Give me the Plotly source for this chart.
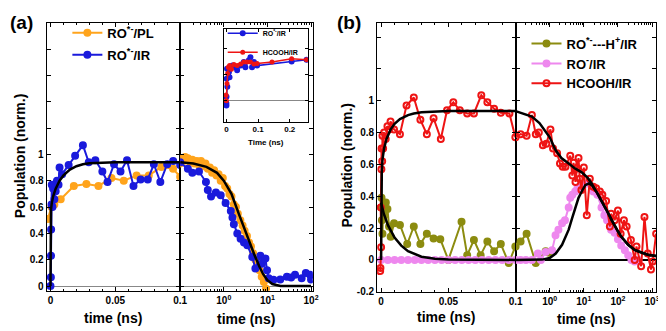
import plotly.graph_objects as go

W, H = 666, 331
FONT = "Liberation Sans, Arial, sans-serif"

# ---------------- colours ----------------
C_ORANGE = "#FFA41C"
C_BLUE = "#1A1ADC"
C_RED = "#EE1414"
C_OLIVE = "#8C8C10"
C_VIOLET = "#EE88EE"
C_FIT = "black"

# ---------------- panel (a) data ----------------
# RO*-/PL (orange), linear part 0..0.1 ns
a_pl_t_lin = [-0.002, 0.0007, 0.003, 0.0079, 0.018, 0.0277, 0.037, 0.047, 0.0565, 0.0664, 0.0758, 0.0855, 0.0945, 0.1]
a_pl_v_lin = [0.51, 0.60, 0.62, 0.66, 0.76, 0.775, 0.76, 0.82, 0.80, 0.84, 0.84, 0.905, 0.89, 0.83]
# RO*-/PL (orange), log part
a_pl_t_log = [0.1, 0.11, 0.12, 0.13, 0.14, 0.15, 0.17, 0.19, 0.21, 0.24, 0.27, 0.3, 0.34, 0.38, 0.43,
              0.48, 0.54, 0.6, 0.68, 0.76, 0.85, 0.95, 1.07, 1.2, 1.35, 1.5, 1.7, 1.9, 2.1, 2.4,
              2.7, 3.0, 3.4, 3.8, 4.2, 4.7, 5.3, 5.9, 6.6, 7.4, 8.3, 9.3]
a_pl_v_log = [0.93, 0.97, 0.95, 0.98, 0.96, 0.97, 0.94, 0.96, 0.93, 0.95, 0.92, 0.95, 0.91, 0.93, 0.89,
              0.90, 0.86, 0.88, 0.84, 0.85, 0.80, 0.82, 0.76, 0.74, 0.70, 0.68, 0.62, 0.60, 0.55, 0.50,
              0.46, 0.42, 0.38, 0.33, 0.30, 0.25, 0.20, 0.16, 0.12, 0.07, 0.03, -0.02]

# RO*-/IR (blue)
a_ir_t_lin = [0.0, 0.0003, 0.0004, 0.0005, 0.0008, 0.001, 0.0015, 0.002, 0.0025, 0.003, 0.004, 0.005,
              0.0062, 0.007, 0.009, 0.014, 0.019, 0.025, 0.0295, 0.0346, 0.040, 0.044, 0.049, 0.054,
              0.059, 0.064, 0.0695, 0.075, 0.0797, 0.0847, 0.090, 0.0946, 0.1]
a_ir_v_lin = [0.0, 0.066, 0.23, 0.43, 0.62, 0.77, 0.60, 0.74, 0.76, 0.66, 0.72, 0.80,
              0.77, 0.90, 0.85, 0.92, 0.99, 1.07, 0.94, 0.955, 0.87, 0.79, 0.925, 0.87,
              0.955, 0.76, 0.81, 0.81, 0.925, 0.79, 0.925, 0.95, 0.92]
a_ir_t_log = [0.1, 0.15, 0.19, 0.27, 0.39, 0.43, 0.51, 0.66, 0.85, 1.1, 1.45, 1.58, 1.7, 2.04, 2.43,
              2.9, 3.46, 4.5, 5.3, 6.9, 7.5, 9.0, 9.8, 10.7, 13.8, 19.7, 28, 35, 43, 61, 76, 95, 100]
a_ir_v_log = [0.94, 0.89, 0.86, 0.87, 0.79, 0.73, 0.68, 0.71, 0.69, 0.63, 0.57, 0.52, 0.47, 0.40, 0.36,
              0.33, 0.31, 0.22, 0.134, 0.23, 0.17, 0.21, 0.12, 0.06, 0.047, 0.05, 0.07, 0.065, 0.085, 0.06, 0.10, 0.085, 0.05]

# fit (black)
a_fit_t_lin = [0.0, 0.0002, 0.0004, 0.001, 0.002, 0.004, 0.007, 0.01, 0.015, 0.02, 0.025, 0.03, 0.04, 0.05, 0.1]
a_fit_v_lin = [0.0, 0.30, 0.58, 0.63, 0.68, 0.74, 0.80, 0.84, 0.885, 0.91, 0.925, 0.933, 0.938, 0.94, 0.94]
a_fit_t_log = [0.1, 0.2, 0.4, 0.7, 1.0, 1.5, 2.2, 3.0, 4.0, 5.0, 6.5, 8.0, 10, 13, 20, 30, 100]
a_fit_v_log = [0.94, 0.93, 0.905, 0.86, 0.80, 0.70, 0.55, 0.43, 0.32, 0.24, 0.15, 0.09, 0.045, 0.015, 0.0, 0.0, 0.0]

# inset
in_ir_t = [0.0, 0.0002, 0.0004, 0.003, 0.001, 0.002, 0.008, 0.013, 0.010, 0.019, 0.029, 0.034, 0.045,
           0.055, 0.060, 0.071, 0.076, 0.081, 0.087, 0.092, 0.097, 0.206, 0.253]
in_ir_v = [-0.045, -0.09, 0.08, 0.27, 0.42, 0.61, 0.55, 0.64, 0.45, 0.67, 0.64, 0.58, 0.67,
           0.74, 0.64, 0.77, 0.83, 0.64, 0.74, 0.70, 0.67, 0.75, 0.78]
in_hc_t = [-0.001, 0.0, 0.002, 0.004, 0.006, 0.010, 0.016, 0.024, 0.034, 0.045, 0.055, 0.065, 0.076,
           0.087, 0.097, 0.144, 0.206, 0.253]
in_hc_v = [0.11, 0.0, 0.33, 0.52, 0.64, 0.67, 0.60, 0.69, 0.67, 0.70, 0.74, 0.74, 0.74,
           0.70, 0.71, 0.74, 0.80, 0.78]

# ---------------- panel (b) data ----------------
b_hb_t_lin = [0.0, 0.0003, 0.0006, 0.001, 0.0015, 0.0025, 0.0035, 0.0047, 0.0059, 0.0071, 0.0096, 0.014,
              0.0194, 0.0243, 0.0292, 0.034, 0.039, 0.044, 0.05, 0.0598, 0.064, 0.069, 0.074, 0.079,
              0.084, 0.089, 0.0949, 0.0998]
b_hb_v_lin = [0.33, 0.39, 0.25, 0.165, 0.33, 0.28, 0.36, 0.32, 0.21, 0.145, 0.23, 0.22,
              0.10, 0.21, 0.10, 0.165, 0.135, 0.13, 0.0, 0.24, 0.03, 0.125, 0.03, 0.115,
              0.055, 0.10, -0.02, 0.085]
b_hb_t_log = [0.1, 0.14, 0.21, 0.39, 0.76, 0.95]
b_hb_v_log = [0.085, 0.115, 0.165, -0.02, 0.055, 0.045]

b_ro_t_lin = [0.0, 0.005, 0.01, 0.015, 0.02, 0.025, 0.03, 0.035, 0.04, 0.045, 0.05,
              0.055, 0.06, 0.065, 0.07, 0.075, 0.08, 0.085, 0.09, 0.095, 0.1]
b_ro_v_lin = [0.0, 0.0, 0.0, 0.0, 0.0, 0.0, 0.0, 0.0, 0.0, 0.0, 0.0,
              0.0, 0.0, 0.0, 0.0, 0.0, 0.0, 0.0, 0.0, 0.0, 0.0]
b_ro_t_log = [0.1, 0.14, 0.2, 0.3, 0.45, 0.55, 0.76, 1.17, 1.48, 1.8, 2.3, 2.8, 3.6, 4.0, 4.6, 5.6, 6.5,
              7.8, 9.5, 13, 19, 25, 33, 40, 48, 63, 80, 100, 125, 160, 200, 250, 310, 400]
b_ro_v_log = [0.0, 0.0, 0.0, 0.0, 0.04, 0.0, 0.05, 0.06, 0.155, 0.19, 0.23, 0.25, 0.33, 0.39, 0.41, 0.43, 0.45,
              0.45, 0.47, 0.48, 0.43, 0.41, 0.33, 0.28, 0.25, 0.19, 0.17, 0.13, 0.09, 0.06, 0.03, 0.0, -0.01, 0.0]

b_hc_t_lin = [-0.0007, -0.0005, 0.0, -0.0003, 0.0002, 0.0003, 0.0008, 0.001, 0.0015, 0.0022, 0.0034,
              0.0047, 0.0059, 0.007, 0.0096, 0.014, 0.0189, 0.0243, 0.0292, 0.034, 0.039, 0.0444,
              0.049, 0.0537, 0.0585, 0.064, 0.069, 0.0745, 0.079, 0.084, 0.089, 0.0954, 0.0998]
b_hc_v_lin = [-0.07, -0.05, 0.08, 0.33, 0.57, 0.70, 0.62, 0.78, 0.70, 0.80, 0.76,
              0.84, 0.82, 0.87, 0.82, 0.79, 0.97, 1.02, 0.88, 0.79, 0.89, 0.76,
              0.94, 0.99, 0.94, 0.92, 0.92, 1.035, 0.99, 0.95, 0.925, 0.92, 0.77]
b_hc_t_log = [0.1, 0.14, 0.21, 0.30, 0.39, 0.48, 0.63, 0.8, 1.05, 1.25, 1.65, 2.0, 2.4, 2.9, 4.0, 4.6,
              5.0, 5.7, 6.3, 7.0, 7.6, 8.5, 10, 12.2, 15, 19, 23, 29.6, 35, 45, 58, 63, 80, 100,
              120, 150, 180, 240, 310, 350, 480, 600, 750, 930, 1050, 1320]
b_hc_v_log = [0.77, 0.79, 0.78, 0.91, 0.79, 0.80, 0.72, 0.73, 0.82, 0.70, 0.67, 0.605, 0.585, 0.585, 0.655, 0.53,
              0.61, 0.49, 0.575, 0.64, 0.51, 0.44, 0.58, 0.28, 0.51, 0.46, 0.45, 0.43, 0.41, 0.37, 0.21, 0.29, 0.25, 0.31,
              0.165, 0.25, 0.21, 0.125, 0.0, 0.085, -0.04, 0.27, 0.04, -0.06, -0.01, 0.165]

b_fit_hc_t_lin = [0.0, 0.0002, 0.0005, 0.001, 0.0022, 0.004, 0.0071, 0.01, 0.014, 0.02, 0.0243, 0.03, 0.04, 0.05, 0.1]
b_fit_hc_v_lin = [0.0, 0.35, 0.55, 0.63, 0.70, 0.76, 0.82, 0.855, 0.885, 0.91, 0.92, 0.928, 0.933, 0.935, 0.935]
b_fit_hc_t_log = [0.1, 0.3, 0.5, 0.76, 1.0, 1.48, 2.2, 3.6, 5.5, 8.7, 13, 17, 25, 33, 50, 65, 100, 126,
                  200, 309, 500, 750, 1320]
b_fit_hc_v_log = [0.935, 0.90, 0.86, 0.81, 0.77, 0.69, 0.64, 0.605, 0.575, 0.55, 0.515, 0.48, 0.42, 0.37,
                  0.30, 0.25, 0.18, 0.145, 0.095, 0.063, 0.045, 0.033, 0.025]
b_fit_hb_t_lin = [0.0, 0.002, 0.005, 0.01, 0.015, 0.02, 0.03, 0.04, 0.05, 0.1]
b_fit_hb_v_lin = [0.36, 0.29, 0.22, 0.14, 0.09, 0.055, 0.02, 0.008, 0.003, 0.0]
b_fit_ro_t_log = [0.1, 0.3, 0.6, 1.0, 1.5, 2.3, 3.0, 3.6, 4.5, 5.6, 7.0, 8.7, 11, 14, 17, 25, 33, 50, 65,
                  100, 126, 200, 309, 500, 750, 1320]
b_fit_ro_v_log = [0.0, 0.0, 0.002, 0.012, 0.04, 0.095, 0.15, 0.19, 0.26, 0.33, 0.39, 0.43, 0.47, 0.48, 0.47,
                  0.42, 0.37, 0.30, 0.25, 0.18, 0.145, 0.095, 0.063, 0.045, 0.033, 0.025]

# tick labels
a_y_ticks = [0, 0.2, 0.4, 0.6, 0.8, 1.0, 1.2, 1.4, 1.6, 1.8, 2.0]
a_y_labels = ["0", "0.2", "0.4", "0.6", "0.8", "1", "", "", "", "", ""]
b_y_ticks = [-0.2, 0, 0.2, 0.4, 0.6, 0.8, 1.0, 1.2, 1.4]
b_y_labels = ["-0.2", "0", "0.2", "0.4", "0.6", "0.8", "1", "", ""]
lin_x_ticks = [0, 0.05, 0.1]
lin_x_labels = ["0", "0.05", "0.1"]
a_log_ticks = [1, 10, 100]
a_log_labels = ["10<sup>0</sup>", "10<sup>1</sup>", "10<sup>2</sup>"]
b_log_ticks = [1, 10, 100, 1000]
b_log_labels = ["10<sup>0</sup>", "10<sup>1</sup>", "10<sup>2</sup>", "10<sup>3</sup>"]
in_x_ticks = [0, 0.1, 0.2]
in_x_labels = ["0", "0.1", "0.2"]

# ---------------- figure ----------------
fig = go.Figure()


def add(x, y, color, name, xa, ya, legend, showlegend, group, mode="lines+markers", width=2.0,
        msize=6, symbol="circle"):
    fig.add_trace(go.Scatter(
        x=x, y=y, mode=mode, name=name, legend=legend, showlegend=showlegend, legendgroup=group,
        line=dict(color=color, width=width),
        marker=dict(size=msize, color=color, symbol=symbol, line=dict(color=color, width=2)),
        xaxis=xa, yaxis=ya))


N_PL = "RO<sup>*-</sup>/PL"
N_IR = "RO<sup>*-</sup>/IR"
# panel a
add(a_pl_t_lin, a_pl_v_lin, C_ORANGE, N_PL, "x", "y", "legend", True, "pl")
add(a_pl_t_log, a_pl_v_log, C_ORANGE, N_PL, "x2", "y2", "legend", False, "pl")
add(a_ir_t_lin, a_ir_v_lin, C_BLUE, N_IR, "x", "y", "legend", True, "ir")
add(a_ir_t_log, a_ir_v_log, C_BLUE, N_IR, "x2", "y2", "legend", False, "ir")
add(a_fit_t_lin, a_fit_v_lin, C_FIT, "fit", "x", "y", "legend", False, "fa", mode="lines", width=2.5)
add(a_fit_t_log, a_fit_v_log, C_FIT, "fit", "x2", "y2", "legend", False, "fa", mode="lines", width=2.5)
# inset
add(in_ir_t, in_ir_v, C_BLUE, N_IR, "x5", "y5", "legend3", True, "iir", width=1.5, msize=4)
add(in_hc_t, in_hc_v, C_RED, "HCOOH/IR", "x5", "y5", "legend3", True, "ihc", width=1.5, msize=3)
# panel b
N_HB = "RO<sup>*-</sup>---H<sup>+</sup>/IR"
N_RO = "RO<sup>-</sup>/IR"
N_HC = "HCOOH/IR"
add(b_hb_t_lin, b_hb_v_lin, C_OLIVE, N_HB, "x3", "y3", "legend2", True, "hb")
add(b_hb_t_log, b_hb_v_log, C_OLIVE, N_HB, "x4", "y4", "legend2", False, "hb")
add(b_ro_t_lin, b_ro_v_lin, C_VIOLET, N_RO, "x3", "y3", "legend2", True, "ro")
add(b_ro_t_log, b_ro_v_log, C_VIOLET, N_RO, "x4", "y4", "legend2", False, "ro")
add(b_hc_t_lin, b_hc_v_lin, C_RED, N_HC, "x3", "y3", "legend2", True, "hc", symbol="circle-open")
add(b_hc_t_log, b_hc_v_log, C_RED, N_HC, "x4", "y4", "legend2", False, "hc", symbol="circle-open")
add(b_fit_hc_t_lin, b_fit_hc_v_lin, C_FIT, "fit", "x3", "y3", "legend2", False, "fb", mode="lines", width=2.5)
add(b_fit_hb_t_lin, b_fit_hb_v_lin, C_FIT, "fit", "x3", "y3", "legend2", False, "fb", mode="lines", width=2.5)
add(b_fit_hc_t_log, b_fit_hc_v_log, C_FIT, "fit", "x4", "y4", "legend2", False, "fb", mode="lines", width=2.5)
add(b_fit_ro_t_log, b_fit_ro_v_log, C_FIT, "fit", "x4", "y4", "legend2", False, "fb", mode="lines", width=2.5)


def px(v):
    return v / W


def py(v):
    return 1 - v / H


tickfont = dict(family=FONT, size=10, color="black", weight="bold")
base = dict(showline=True, linecolor="black", linewidth=1, mirror="ticks", ticks="inside",
            ticklen=4, tickcolor="black", showgrid=False, zeroline=False, tickfont=tickfont)


def log_minor(lo, hi):
    vals = []
    d = 10.0 ** lo
    while d < 10.0 ** hi:
        for k in range(2, 10):
            vals.append(k * d)
        d *= 10
    return vals


lin_minor = dict(ticks="inside", ticklen=2, tickcolor="black", dtick=0.01, tick0=0, showgrid=False)

fig.update_layout(
    width=W, height=H, margin=dict(l=0, r=0, t=0, b=0),
    paper_bgcolor="white", plot_bgcolor="white",
    font=dict(family=FONT, color="black", weight="bold"),
    xaxis=dict(base, domain=[px(39), px(174)], range=[-0.003, 0.1], anchor="y",
               tickmode="array", tickvals=lin_x_ticks, ticktext=lin_x_labels, minor=lin_minor),
    xaxis2=dict(base, type="log", domain=[px(174), px(308)], range=[-1, 2.04], anchor="y2",
                tickmode="array", tickvals=a_log_ticks, ticktext=a_log_labels,
                minor=dict(ticks="inside", ticklen=2, tickcolor="black", tickmode="array",
                           tickvals=log_minor(-1, 3), showgrid=False)),
    yaxis=dict(base, domain=[py(288), py(15)], range=[-0.036, 2.0], anchor="x",
               tickmode="array", tickvals=a_y_ticks, ticktext=a_y_labels,
               zeroline=True, zerolinecolor="#888888", zerolinewidth=1),
    yaxis2=dict(base, domain=[py(288), py(15)], range=[-0.036, 2.0], anchor="x2",
                tickmode="array", tickvals=a_y_ticks, showticklabels=False,
                zeroline=True, zerolinecolor="#888888", zerolinewidth=1),
    xaxis3=dict(base, domain=[px(373), px(513)], range=[-0.003, 0.1], anchor="y3",
                tickmode="array", tickvals=lin_x_ticks, ticktext=lin_x_labels, minor=lin_minor),
    xaxis4=dict(base, type="log", domain=[px(513), px(655)], range=[-1, 3.12], anchor="y4",
                tickmode="array", tickvals=b_log_ticks, ticktext=b_log_labels,
                minor=dict(ticks="inside", ticklen=2, tickcolor="black", tickmode="array",
                           tickvals=log_minor(-1, 4), showgrid=False)),
    yaxis3=dict(base, domain=[py(289), py(15)], range=[-0.2, 1.49], anchor="x3",
                tickmode="array", tickvals=b_y_ticks, ticktext=b_y_labels,
                zeroline=True, zerolinecolor="black", zerolinewidth=2),
    yaxis4=dict(base, domain=[py(289), py(15)], range=[-0.2, 1.49], anchor="x4",
                tickmode="array", tickvals=b_y_ticks, showticklabels=False,
                zeroline=True, zerolinecolor="black", zerolinewidth=2),
    xaxis5=dict(base, domain=[px(218), px(303)], range=[-0.0084, 0.257], anchor="y5",
                tickmode="array", tickvals=in_x_ticks, ticktext=in_x_labels, ticklen=3,
                tickfont=dict(family=FONT, size=8, color="black", weight="bold")),
    yaxis5=dict(base, domain=[py(116), py(21.7)], range=[-0.4, 1.36], anchor="x5",
                tickmode="array", tickvals=[0, 0.5, 1.0], showticklabels=False, ticklen=3,
                zeroline=True, zerolinecolor="#888888", zerolinewidth=1),
    legend=dict(x=px(60), y=py(10), xanchor="left", yanchor="top", bgcolor="rgba(0,0,0,0)",
                font=dict(family=FONT, size=13, color="black", weight="bold"), tracegroupgap=2),
    legend2=dict(x=px(524), y=py(21), xanchor="left", yanchor="top", bgcolor="rgba(0,0,0,0)",
                 font=dict(family=FONT, size=13, color="black", weight="bold"), tracegroupgap=0),
    legend3=dict(x=px(217), y=py(11), xanchor="left", yanchor="top", bgcolor="rgba(0,0,0,0)",
                 font=dict(family=FONT, size=7, color="black", weight="bold"), tracegroupgap=0),
    showlegend=True,
)

title_font = dict(family=FONT, size=14, color="black", weight="bold")
annos = [
    dict(text="(a)", x=px(0), y=py(15), xanchor="left", yanchor="middle",
         font=dict(family=FONT, size=19, color="black", weight="bold")),
    dict(text="(b)", x=px(330), y=py(15), xanchor="left", yanchor="middle",
         font=dict(family=FONT, size=19, color="black", weight="bold")),
    dict(text="Population (norm.)", x=px(12), y=py(151), textangle=-90, font=title_font),
    dict(text="Population (norm.)", x=px(343), y=py(160), textangle=-90, font=title_font),
    dict(text="time (ns)", x=px(106.5), y=py(316), font=title_font),
    dict(text="time (ns)", x=px(241), y=py(317), font=title_font),
    dict(text="time (ns)", x=px(443), y=py(315), font=title_font),
    dict(text="time (ns)", x=px(584), y=py(317), font=title_font),
    dict(text="Time (ns)", x=px(261), y=py(137), font=dict(family=FONT, size=8, color="black", weight="bold")),
]
for a in annos:
    a.update(xref="paper", yref="paper", showarrow=False)
    a.setdefault("xanchor", "center")
    a.setdefault("yanchor", "middle")
fig.update_layout(annotations=annos)

fig.write_html("out.html")
